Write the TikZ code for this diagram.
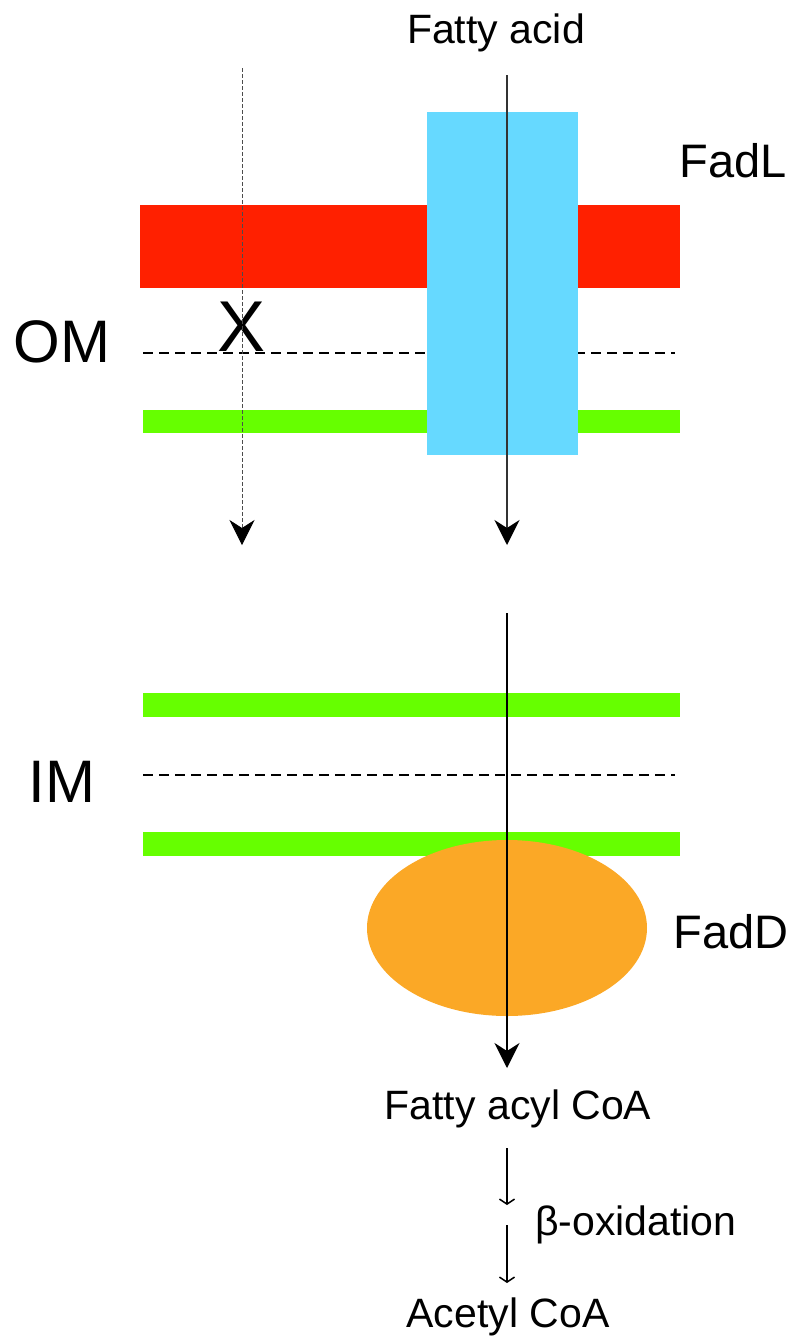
\documentclass[tikz,border=0pt]{standalone}
\usepackage{fontspec}
\setmainfont{Liberation Sans}
\usetikzlibrary{calc}
\usetikzlibrary{arrows.meta}
\usepackage{xcolor}
\definecolor{omred}{HTML}{FF2000}
\definecolor{lipgreen}{HTML}{66FF00}
\definecolor{fadlblue}{HTML}{66D9FF}
\definecolor{fadorange}{HTML}{FBA826}

\begin{document}
\begin{tikzpicture}[x=1pt,y=-1pt,
  lbl/.style={inner sep=0pt,anchor=base,font=\fontsize{41}{49}\selectfont},
  prot/.style={inner sep=0pt,anchor=base,font=\fontsize{47}{56}\selectfont},
  memb/.style={inner sep=0pt,anchor=base,font=\fontsize{60}{72}\selectfont},
  midline/.style={line width=2pt,dash pattern=on 10pt off 6pt},
  bigarrow/.style={-{Stealth[length=25pt,width=25pt,inset=8pt,color=black]}},
  smallarrow/.style={line width=1.5pt,-{Straight Barb[length=5pt,width=15pt]}}]
\useasboundingbox (0,0) rectangle (796,1339);
\def\xa{507};
\def\xl{143};
\def\xr{680};
% outer membrane
\fill[omred] (140,205) rectangle (\xr,288);
\draw[midline] (\xl,353)--(675,353);
\fill[lipgreen] (\xl,410) rectangle (\xr,433);
\fill[fadlblue] (427,112) rectangle (578,455);
% inner membrane
\fill[lipgreen] (\xl,693) rectangle (\xr,717);
\draw[midline] (\xl,775)--(675,775);
\fill[lipgreen] (\xl,832) rectangle (\xr,856);
\fill[fadorange] (\xa,928) ellipse [x radius=140,y radius=88];
% labels
\node[lbl] (fattyacid) at (496,43) {Fatty acid};
\node[prot] (fadL) at (733,177) {FadL};
\node[memb] (om) at (62,362) {OM};
\node[inner sep=0pt,anchor=base,font=\fontsize{72}{80}\selectfont] (cross) at (242,351) {X};
\node[memb] (im) at (62,802) {IM};
\node[prot] (fadD) at (731,948) {FadD};
\node[lbl] (acylcoa) at (518,1119) {Fatty acyl CoA};
\node[lbl,anchor=base west] (boxidation) at (535,1235) {β-oxidation};
\node[lbl] (acetylcoa) at (508,1327) {Acetyl CoA};
% transport
\coordinate (blockin) at (242,68);
\coordinate (blockout) at (242,545);
\coordinate (fain) at (\xa,75);
\coordinate (faout) at (\xa,545);
\coordinate (imin) at (\xa,613);
\coordinate (imout) at (\xa,1068);
\draw[bigarrow,line width=0.8pt,black!70,dash pattern=on 4pt off 2pt] (blockin)--(blockout);
\draw[bigarrow,line width=1.5pt,black!80] (fain)--(faout);
\draw[bigarrow,line width=2pt] (imin)--(imout);
\draw[smallarrow] ($(acylcoa.base)+(-11,29)$)--($(acylcoa.base)+(-11,86)$);
\draw[smallarrow] ($(acetylcoa.base)+(-1,-102)$)--($(acetylcoa.base)+(-1,-44)$);
\end{tikzpicture}
\end{document}
